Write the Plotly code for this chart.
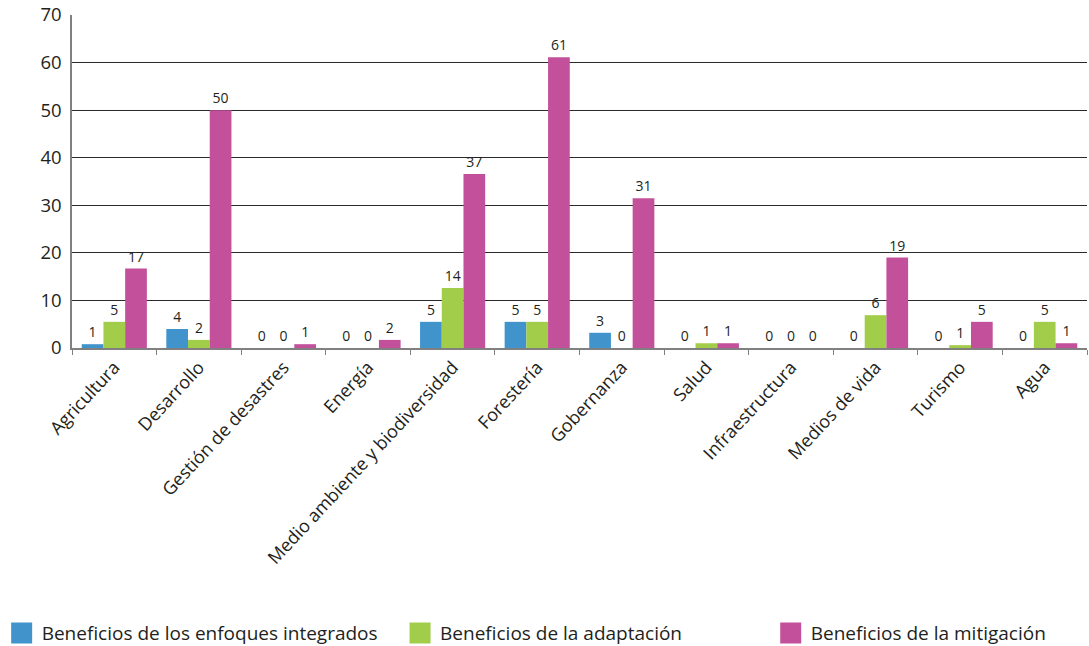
import plotly.graph_objects as go

categories = ["Agricultura", "Desarrollo", "Gestión de desastres", "Energía",
              "Medio ambiente y biodiversidad", "Forestería", "Gobernanza", "Salud",
              "Infraestructura", "Medios de vida", "Turismo", "Agua"]

series_names = ["Beneficios de los enfoques integrados",
                "Beneficios de la adaptación",
                "Beneficios de la mitigación"]

# bar heights as drawn
integrados = [0.8, 4.0, 0, 0, 5.5, 5.5, 3.2, 0, 0, 0, 0, 0]
adaptacion = [5.5, 1.7, 0, 0, 12.6, 5.5, 0, 1.0, 0, 6.9, 0.6, 5.5]
mitigacion = [16.7, 50.0, 0.8, 1.7, 36.6, 61.1, 31.5, 1.0, 0, 19.0, 5.5, 1.0]

# data labels as printed
integrados_lbl = ["1", "4", "0", "0", "5", "5", "3", "0", "0", "0", "0", "0"]
adaptacion_lbl = ["5", "2", "0", "0", "14", "5", "0", "1", "0", "6", "1", "5"]
mitigacion_lbl = ["17", "50", "1", "2", "37", "61", "31", "1", "0", "19", "5", "1"]

y_ticks = [0, 10, 20, 30, 40, 50, 60, 70]

colors = ["#4193CC", "#A1CD4B", "#C3509B"]
text_color = "#231F20"
font_family = "'Open Sans', 'Noto Sans', sans-serif"

fig = go.Figure()
values = [integrados, adaptacion, mitigacion]
labels = [integrados_lbl, adaptacion_lbl, mitigacion_lbl]
for name, vals, lbls, col in zip(series_names, values, labels, colors):
    fig.add_trace(go.Bar(
        x=categories, y=vals, name=name, text=lbls,
        textposition="outside", constraintext="none", cliponaxis=False,
        textfont=dict(size=14, color=text_color, family=font_family),
        marker=dict(color=col, line=dict(width=0)),
        showlegend=False, hoverinfo="x+y",
    ))

legend_ids = ["legend", "legend2", "legend3"]
legend_x = [-0.0693, 0.3232, 0.6884]
for name, col, lid in zip(series_names, colors, legend_ids):
    fig.add_trace(go.Scatter(
        x=[None], y=[None], mode="markers", name=name,
        marker=dict(symbol="square", size=16, color=col, line=dict(color=col, width=5)),
        legend=lid, showlegend=True,
    ))

legend_common = dict(orientation="h", yanchor="middle", y=-0.856, xanchor="left",
                     font=dict(size=19, color=text_color, family=font_family),
                     bgcolor="rgba(0,0,0,0)", itemsizing="trace")

fig.update_layout(
    width=1089, height=646,
    margin=dict(l=72, r=2, t=15, b=298, autoexpand=False),
    paper_bgcolor="white", plot_bgcolor="white",
    barmode="group", bargap=0.23, bargroupgap=0,
    font=dict(family=font_family, color=text_color),
    legend=dict(x=legend_x[0], **legend_common),
    legend2=dict(x=legend_x[1], **legend_common),
    legend3=dict(x=legend_x[2], **legend_common),
    xaxis=dict(
        tickangle=-47, tickfont=dict(size=18, color=text_color, family=font_family),
        showline=True, linecolor="#808080", linewidth=1.5,
        ticks="outside", tickson="boundaries", ticklen=5, tickcolor="#808080",
        showgrid=False, mirror=False,
    ),
    yaxis=dict(
        range=[0, 70], tickmode="array", tickvals=y_ticks,
        tickfont=dict(size=18.5, color=text_color, family=font_family),
        ticklabeloverflow="allow",
        showline=True, linecolor="#808080", linewidth=1.5,
        showgrid=True, gridcolor="#2a2a2a", gridwidth=1,
        zeroline=False, ticks="", ticklabelstandoff=5,
    ),
)

# remove the browser's default 8 px body margin so the figure fills the window exactly
fig.write_html("out.html", config={"displayModeBar": False},
               post_script="document.body.style.margin='0px';")
